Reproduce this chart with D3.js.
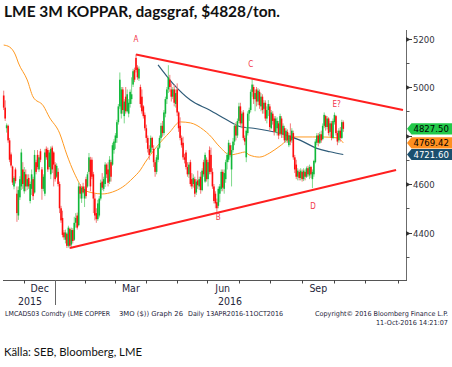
<!DOCTYPE html>
<html><head><meta charset="utf-8">
<script src="https://cdn.jsdelivr.net/npm/d3@7"></script>
<style>body{margin:0;background:#fff}svg{display:block}</style>
</head><body>
<svg id="c" width="452" height="367"></svg>
<script>
// ---------- data ----------
const startDate = "2015-11-11";
const endDate = "2016-12-09";
const holidays = ["2015-12-25","2015-12-28","2016-01-01","2016-03-25","2016-03-28","2016-05-02","2016-05-30","2016-08-29"];

const open = [4965,4915,4830,4840,4780,4722,4672,4590,4660,4560,4470,4545,4590,4660,4570,4640,4590,4625,4530,4580,4620,4565,4690,4720,4660,4735,4660,4580,4560,4745,4740,4670,4640,4750,4730,4680,4630,4650,4600,4500,4460,4400,4370,4395,4345,4415,4350,4410,4370,4440,4470,4430,4590,4540,4590,4540,4620,4590,4650,4700,4700,4640,4540,4480,4455,4470,4540,4610,4580,4600,4680,4660,4610,4690,4680,4740,4770,4790,4855,4920,4890,4990,4880,4960,4900,4890,4930,4950,5010,5070,5120,5080,5035,5000,4960,4920,
4885,4830,4790,4745,4730,4790,4745,4690,4650,4700,4750,4790,4840,4810,4890,4950,4990,5030,4990,4960,4990,4930,4990,4895,4840,4790,4770,4710,4730,4670,4640,4690,4620,4600,4620,4565,4615,4590,4630,4575,4690,4610,4700,4620,4740,4720,4650,4590,4560,4525,4510,4560,4580,4650,4580,4620,4690,4700,4760,4660,4740,4775,4840,4800,4860,4920,4850,4895,4790,4710,4810,4890,4905,4980,5000,4950,4990,4940,4980,4920,4960,4910,4935,4870,4905,4920,4830,4890,4870,4815,4830,4850,4810,4870,4805,4830,4780,4815,4760,4800,4780,4810,4710,4680,4630,4650,4625,4650,4620,4650,4630,4665,4635,4670,4620,4640,4690,4770,4800,4770,4805,4785,4840,4880,4835,4870,4815,4850,4790,4855,4880,4810,4780,4820,4790,4855];
const high = [4985,4945,4850,4845,4790,4730,4676,4632,4668,4590,4590,4632,4745,4690,4670,4660,4640,4640,4610,4660,4630,4740,4700,4740,4720,4745,4670,4640,4745,4755,4750,4740,4755,4758,4735,4690,4685,4665,4610,4510,4490,4410,4412,4400,4428,4420,4420,4418,4465,4480,4482,4605,4600,4590,4605,4590,4630,4650,4728,4712,4710,4650,4560,4500,4535,4550,4618,4645,4630,4690,4685,4690,4715,4700,4770,4785,4810,4865,4930,5060,5000,5000,4950,5000,4990,4950,4990,5040,5075,5080,5135,5090,5085,5010,4990,4925,
4895,4845,4800,4760,4800,4795,4760,4700,4720,4760,4800,4852,4860,4905,4960,5000,5090,5050,5015,5000,5010,4990,5015,4900,4875,4800,4795,4725,4740,4690,4690,4700,4645,4640,4630,4620,4655,4630,4650,4665,4700,4730,4710,4700,4755,4750,4665,4600,4570,4540,4590,4600,4660,4660,4660,4700,4730,4782,4770,4760,4790,4850,4855,4870,4935,4935,4900,4905,4800,4835,4900,4915,4990,5037,5010,4990,5000,4995,4990,4975,4970,4946,4945,4920,4946,4930,4905,4900,4880,4880,4875,4860,4890,4880,4850,4840,4830,4825,4810,4850,4830,4820,4720,4700,4665,4660,4665,4660,4665,4660,4672,4675,4680,4675,4660,4700,4785,4810,4810,4815,4820,4850,4895,4885,4880,4875,4860,4860,4870,4895,4885,4820,4830,4835,4865,4862];
const low = [4905,4860,4812,4770,4690,4668,4596,4578,4602,4444,4452,4534,4575,4580,4560,4570,4575,4580,4520,4555,4534,4560,4640,4660,4650,4690,4535,4570,4550,4700,4650,4660,4620,4645,4590,4610,4625,4590,4480,4440,4380,4370,4355,4336,4338,4333,4340,4355,4365,4420,4412,4425,4540,4522,4560,4505,4540,4585,4640,4570,4620,4480,4450,4440,4448,4462,4532,4575,4570,4588,4625,4590,4600,4610,4675,4725,4745,4770,4845,4910,4870,4890,4850,4890,4895,4875,4915,4930,5000,5020,5060,5030,5025,4915,4890,4870,
4820,4770,4730,4700,4725,4740,4670,4630,4640,4690,4745,4780,4795,4800,4875,4930,4975,4980,4940,4950,4920,4915,4880,4815,4780,4750,4700,4685,4660,4630,4625,4590,4580,4585,4546,4555,4580,4575,4560,4570,4630,4605,4610,4590,4640,4640,4580,4520,4500,4485,4500,4525,4570,4570,4560,4605,4660,4690,4710,4590,4730,4760,4780,4790,4850,4840,4830,4780,4760,4690,4800,4860,4895,4960,4930,4900,4920,4925,4910,4900,4890,4890,4860,4850,4880,4820,4825,4845,4800,4810,4800,4785,4800,4790,4790,4770,4770,4770,4752,4760,4770,4700,4645,4620,4615,4615,4615,4610,4612,4615,4625,4630,4620,4625,4583,4630,4685,4760,4755,4765,4770,4780,4830,4820,4825,4800,4795,4780,4785,4845,4800,4760,4770,4775,4785,4815];
const close = [4915,4870,4842,4780,4700,4676,4606,4625,4612,4480,4575,4620,4730,4600,4650,4590,4620,4590,4600,4640,4550,4720,4650,4670,4710,4700,4580,4630,4730,4710,4660,4730,4745,4660,4680,4620,4675,4600,4500,4450,4390,4380,4400,4345,4420,4345,4410,4365,4440,4460,4420,4590,4560,4585,4565,4580,4550,4640,4710,4590,4630,4540,4470,4455,4520,4540,4605,4585,4620,4680,4640,4605,4700,4630,4760,4775,4800,4855,4920,5030,4990,4905,4940,4900,4970,4935,4980,4970,5065,5030,5070,5040,5075,4930,4900,4880,
4830,4790,4745,4720,4790,4750,4690,4650,4710,4750,4790,4840,4810,4895,4950,4990,5040,5000,4960,4990,4935,4975,4895,4830,4790,4760,4710,4700,4670,4640,4680,4600,4590,4625,4560,4610,4595,4620,4575,4655,4640,4720,4620,4690,4650,4650,4590,4530,4520,4500,4580,4590,4650,4585,4645,4690,4720,4770,4720,4740,4775,4840,4800,4860,4920,4850,4890,4790,4775,4820,4890,4905,4980,5010,4950,4975,4940,4985,4925,4960,4905,4935,4870,4905,4930,4835,4895,4860,4815,4870,4860,4800,4880,4805,4840,4780,4820,4780,4800,4775,4820,4710,4660,4630,4655,4625,4655,4620,4655,4630,4665,4640,4670,4640,4650,4695,4775,4800,4770,4805,4780,4840,4885,4835,4870,4810,4850,4790,4860,4885,4810,4775,4820,4790,4855,4827.5];

// moving averages read at trading-day positions
const ma50Day = [0,4,8,10,16,20,27,31,38,43,48,55,61,67,74,81,88,93,96,104,113,120,127,136,140,147,154,161,164,167,174,181,188,197,210,217,227,231];
const ma50 = [5173,5165,5132,5099,5029,4959,4922,4876,4810,4720,4645,4575,4563,4559,4567,4588,4625,4658,4687,4753,4814,4856,4852,4823,4802,4753,4720,4728,4732,4720,4711,4728,4757,4794,4794,4794,4790,4769.42];
const ma200Day = [105,115,127,140,154,161,170,188,201.5,213,222,231];
const ma200 = [5091,5015,4946,4905,4857,4836,4830,4809,4781,4747,4733,4721.60];

// trend lines (trading day, price)
const upperLineDay = [90, 271.6], upperLinePrice = [5134, 4905];
const lowerLineDay = [45.1, 266.9], lowerLinePrice = [4336, 4658];

const pointLabels = ["A","B","C","D","E?"];
const pointDay = [90, 146, 168, 210.4, 226.5];
const pointPrice = [5196, 4462, 5094, 4510, 4930];

const yMajor = [4400,4600,4800,5000,5200];
const yMinor = [4300,4500,4700,4900,5100];
const monthLabels = ["Dec","Mar","Jun","Sep"];
const yearLabels = ["2015","2016"];

const tagValues = [4827.50, 4769.42, 4721.60];
const tagText = ["4827.50","4769.42","4721.60"];

// ---------- build ----------
const tradingDays = [];
for (let d = new Date(startDate+"T00:00:00Z"); d <= new Date(endDate+"T00:00:00Z"); d.setUTCDate(d.getUTCDate()+1)) {
  const wd = d.getUTCDay(), s = d.toISOString().slice(0,10);
  if (wd===0 || wd===6 || holidays.includes(s)) continue;
  tradingDays.push(s);
}
const bars = close.map((c,i)=>({i, o:open[i], h:high[i], l:low[i], c}));

const svg = d3.select("#c");
const x = d3.scaleLinear().domain([0, tradingDays.length-1]).range([3.7, 406.5]);
const y = d3.scaleLinear().domain([4400, 5200]).range([232.5, 38.5]);
const AX = 406, AY = 280;
const axisFont = "'DejaVu Sans Condensed','DejaVu Sans',sans-serif";

// title
svg.append("text").attr("x",4).attr("y",17).attr("font-family","Lato, sans-serif").attr("font-weight","bold")
  .attr("font-size",14.5).attr("fill","#111").attr("textLength",276).attr("lengthAdjust","spacingAndGlyphs")
  .text("LME 3M KOPPAR, dagsgraf, $4828/ton.");

const plot = svg.append("g");

// moving averages (behind candles)
const lineGen = d3.line().x(d=>x(d[0])).y(d=>y(d[1])).curve(d3.curveMonotoneX);
plot.append("path").attr("d", lineGen(ma50Day.map((d,k)=>[d, ma50[k]])))
  .attr("fill","none").attr("stroke","#ff9a22").attr("stroke-width",1);
plot.append("path").attr("d", lineGen(ma200Day.map((d,k)=>[d, ma200[k]])))
  .attr("fill","none").attr("stroke","#2e5b78").attr("stroke-width",1.2);

// candles
const up = b => b.c >= b.o;
plot.selectAll("rect.w").data(bars).enter().append("rect")
  .attr("x", b=>x(b.i)-0.5).attr("width",1)
  .attr("y", b=>y(b.h)).attr("height", b=>Math.max(1, y(b.l)-y(b.h)))
  .attr("fill", b=> up(b) ? "#7ed98c" : "#f37a7a");
plot.selectAll("rect.b").data(bars).enter().append("rect")
  .attr("x", b=>x(b.i)-0.8).attr("width",1.6)
  .attr("y", b=>y(Math.max(b.o,b.c))).attr("height", b=>Math.max(1, Math.abs(y(b.o)-y(b.c))))
  .attr("fill", b=> up(b) ? "#10b83a" : "#ff0d0d");

// trend lines
const tl = d3.line().x(d=>x(d[0])).y(d=>y(d[1]));
plot.append("path").attr("d", tl(upperLineDay.map((d,k)=>[d, upperLinePrice[k]])))
  .attr("stroke","#ff1f1f").attr("stroke-width",2).attr("fill","none");
plot.append("path").attr("d", tl(lowerLineDay.map((d,k)=>[d, lowerLinePrice[k]])))
  .attr("stroke","#ff1f1f").attr("stroke-width",2).attr("fill","none");

// point labels
plot.selectAll("text.pl").data(pointLabels).enter().append("text")
  .attr("x",(d,k)=>x(pointDay[k])).attr("y",(d,k)=>y(pointPrice[k])+3)
  .attr("text-anchor","middle").attr("font-family",axisFont).attr("font-size",8)
  .attr("fill","#f2364a").text(d=>d);

// right axis
svg.append("line").attr("x1",AX+0.5).attr("x2",AX+0.5).attr("y1",30).attr("y2",AY)
  .attr("stroke","#6b6b6b").attr("stroke-width",1);
yMinor.forEach(v=>{
  svg.append("line").attr("x1",AX).attr("x2",AX+3.5).attr("y1",Math.round(y(v))+0.5).attr("y2",Math.round(y(v))+0.5)
    .attr("stroke","#555").attr("stroke-width",1);
});
yMajor.forEach(v=>{
  const yy = Math.round(y(v))+0.5;
  svg.append("path").attr("d",`M${AX},${yy-2.5}L${AX+4.5},${yy}L${AX},${yy+2.5}Z`).attr("fill","#333");
  svg.append("line").attr("x1",AX).attr("x2",AX+6).attr("y1",yy).attr("y2",yy).attr("stroke","#333");
  if (v !== 4800) svg.append("text").attr("x",AX+7).attr("y",yy+3.4).attr("font-family",axisFont)
    .attr("font-size",9.5).attr("fill","#333340").text(d3.format("d")(v));
});

// value tags
const tagFill = ["#22c94a","#ff8f1f","#1b4f6e"], tagInk = ["#000","#000","#fff"];
tagValues.forEach((v,k)=>{
  const cy = y(v);
  svg.append("path").attr("d",`M${AX+1},${cy}L${AX+5.5},${cy-5.6}L452,${cy-5.6}L452,${cy+5.6}L${AX+5.5},${cy+5.6}Z`)
    .attr("fill",tagFill[k]);
  svg.append("text").attr("x",AX+7.5).attr("y",cy+3.5).attr("font-family",axisFont).attr("font-size",9.5)
    .attr("fill",tagInk[k]).text(tagText[k]);
});

// bottom axis
svg.append("line").attr("x1",3).attr("x2",AX+1).attr("y1",AY+0.5).attr("y2",AY+0.5).attr("stroke","#555");
const monthStarts = [];
tradingDays.forEach((s,i)=>{ if (i>0 && s.slice(5,7)!==tradingDays[i-1].slice(5,7)) monthStarts.push(i); });
monthStarts.forEach(i=>{
  const xx = Math.round(x(i))+0.5;
  const isYear = tradingDays[i].slice(5,7)==="01";
  svg.append("line").attr("x1",xx).attr("x2",xx).attr("y1",AY).attr("y2",isYear?305:AY+3.5)
    .attr("stroke", isYear?"#666":"#444").attr("stroke-width",1);
});
const monthNum = {"Dec":"12","Mar":"03","Jun":"06","Sep":"09"};
monthLabels.forEach(m=>{
  const yr = m==="Dec" ? "2015" : "2016";
  const idx = monthStarts.filter(i=>tradingDays[i].startsWith(yr+"-"+monthNum[m]))[0];
  const nxt = monthStarts[monthStarts.indexOf(idx)+1];
  svg.append("text").attr("x",(x(idx)+x(nxt))/2).attr("y",292).attr("text-anchor","middle")
    .attr("font-family",axisFont).attr("font-size",10.5).attr("fill","#26263a").text(m);
});
yearLabels.forEach((t,k)=>{
  svg.append("text").attr("x",k===0?30:230).attr("y",305).attr("text-anchor","middle")
    .attr("font-family",axisFont).attr("font-size",10.5).attr("fill","#26263a").text(t);
});

// footer
const ff = axisFont, fc = "#1d1d3a";
const foot = (t,xx,yy,len,anchor)=>svg.append("text").attr("x",xx).attr("y",yy).attr("font-family",ff)
  .attr("font-size",6.8).attr("fill",fc).attr("text-anchor",anchor||"start")
  .attr("textLength",len).attr("lengthAdjust","spacingAndGlyphs").text(t);
foot("LMCADS03 Comdty (LME COPPER",5,315.5,105);
foot("3MO ($)) Graph 26",119,315.5,64);
foot("Daily 13APR2016-11OCT2016",188,315.5,95);
foot("Copyright\u00A9 2016 Bloomberg Finance L.P.",315,315.5,133);
foot("11-Oct-2016 14:21:07",376,324.5,72);

// source
svg.append("text").attr("x",4).attr("y",356).attr("font-family","Lato, sans-serif").attr("font-size",12)
  .attr("fill","#111").attr("textLength",138).attr("lengthAdjust","spacingAndGlyphs").text("Källa: SEB, Bloomberg, LME");
</script>
</body></html>
